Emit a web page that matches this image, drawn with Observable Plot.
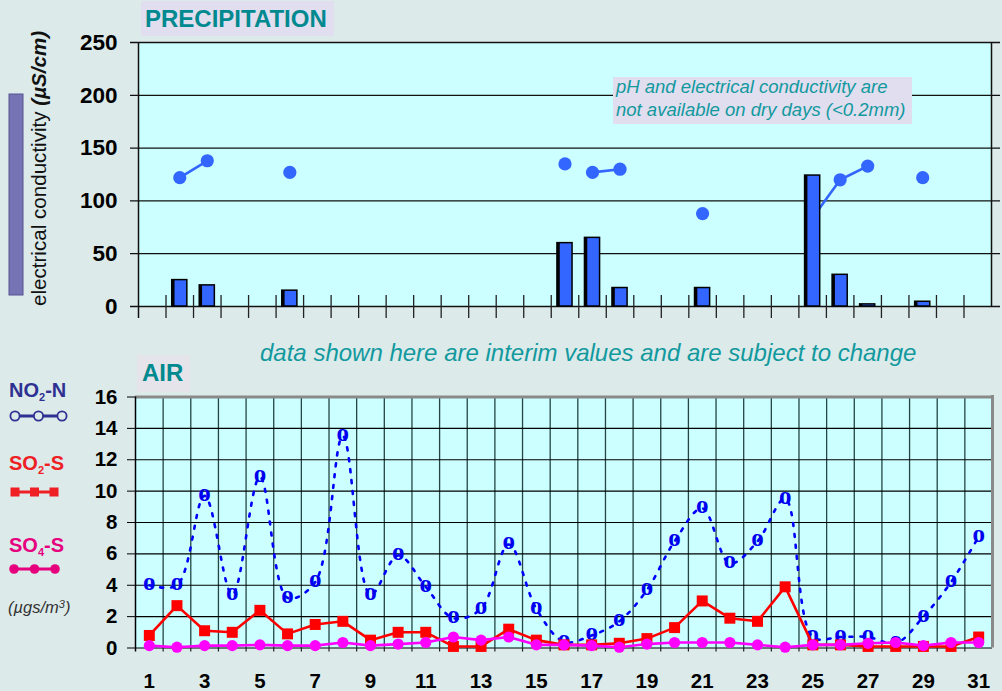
<!DOCTYPE html>
<html>
<head>
<meta charset="utf-8">
<script src="https://cdn.jsdelivr.net/npm/d3@7"></script>
<script src="https://cdn.jsdelivr.net/npm/@observablehq/plot@0.6"></script>
<style>
  html, body { margin: 0; padding: 0; background: #DCEAEA; }
  #wrap { position: relative; width: 1002px; height: 691px; overflow: hidden; background: #DCEAEA;
          font-family: Arial, "Liberation Sans", sans-serif; }
  #topChart { position: absolute; left: 0; top: 0; }
  #airChart { position: absolute; left: 0; top: 380px; }
  #overlay { position: absolute; left: 0; top: 0; }
</style>
</head>
<body>
<div id="wrap">
  <div id="topChart"></div>
  <div id="airChart"></div>
</div>
<script>
// ---------- data ----------
const days = [1,2,3,4,5,6,7,8,9,10,11,12,13,14,15,16,17,18,19,20,21,22,23,24,25,26,27,28,29,30,31];
const dayLabels = [1,3,5,7,9,11,13,15,17,19,21,23,25,27,29,31];

// precipitation bars
const rainDays = [2, 3, 6, 16, 17, 18, 21, 25, 26, 27, 29];
const rainValues = [25, 20, 15, 60, 65, 17.5, 17.5, 124, 30, 2, 4.5];

// electrical conductivity (uS/cm), consecutive runs joined by a line
const ecDays = [2, 3, 6, 16, 17, 18, 21, 25, 26, 27, 29];
const ecValues = [122, 138, 127, 135, 127, 130, 88, 84, 120, 133, 122];
const ecRun = ["a", "a", "b", "c", "d", "d", "e", "f", "f", "f", "g"];

// air (ug/m3)
const no2 = [4.0, 4.0, 9.7, 3.4, 10.9, 3.2, 4.2, 13.5, 3.4, 5.9, 3.9, 1.9, 2.5, 6.6, 2.5, 0.4,
             0.8, 1.7, 3.7, 6.8, 8.9, 5.4, 6.8, 9.5, 0.7, 0.7, 0.7, 0.3, 2.0, 4.2, 7.1];
const so2 = [0.8, 2.7, 1.1, 1.0, 2.4, 0.9, 1.5, 1.7, 0.5, 1.0, 1.0, 0.1, 0.1, 1.2, 0.5, 0.2,
             0.2, 0.3, 0.6, 1.3, 3.0, 1.9, 1.7, 3.9, 0.2, 0.2, 0.1, 0.1, 0.1, 0.1, 0.7];
const so4 = [0.15, 0.05, 0.15, 0.15, 0.2, 0.15, 0.15, 0.35, 0.15, 0.25, 0.35, 0.7, 0.5, 0.7, 0.2, 0.2,
             0.15, 0.05, 0.25, 0.35, 0.35, 0.35, 0.2, 0.05, 0.2, 0.2, 0.3, 0.35, 0.15, 0.35, 0.35];

const precipTicks = [0, 50, 100, 150, 200, 250];
const airTicks = [0, 2, 4, 6, 8, 10, 12, 14, 16];

// ---------- tables ----------
const rain = rainDays.map((day, i) => ({day, mm: rainValues[i]}));
const ec = ecDays.map((day, i) => ({day, ec: ecValues[i], run: ecRun[i]}));
const air = days.map((day, i) => ({day, no2: no2[i], so2: so2[i], so4: so4[i]}));
const bounds = days.slice(1).map(d => d - 0.5);   // category boundaries
const font = "Arial, 'Liberation Sans', sans-serif";

// ---------- precipitation chart ----------
const topPlot = Plot.plot({
  width: 1002, height: 330,
  marginTop: 42, marginBottom: 24, marginLeft: 138, marginRight: 11,
  x: {domain: [0.5, 31.5], axis: null},
  y: {domain: [0, 250], axis: null},
  style: {background: "transparent", overflow: "visible", fontFamily: font},
  marks: [
    Plot.frame({fill: "#CCFFFF", stroke: null}),
    Plot.ruleY(precipTicks, {stroke: "#111", strokeWidth: 1.3, insetLeft: -8, insetRight: -9}),
    Plot.ruleX([0.5], {stroke: "#111", strokeWidth: 1.5, insetBottom: -12}),
    Plot.ruleX([31.5], {stroke: "#111", strokeWidth: 1.5}),
    Plot.tickX(bounds, {stroke: "#222", strokeWidth: 1.3, insetTop: 253, insetBottom: -12}),
    Plot.line(ec, {x: "day", y: "ec", z: "run", stroke: "#3366FF", strokeWidth: 2.6}),
    Plot.dot(ec, {x: "day", y: "ec", r: 6.6, fill: "#3366FF"}),
    Plot.rect(rain, {x1: d => d.day - 0.5, x2: d => d.day + 0.5, y1: 0, y2: "mm",
                     fill: "#3366FF", stroke: "#000", strokeWidth: 1.5, insetLeft: 6.2, insetRight: 6.2}),
    Plot.rect(rain, {x1: d => d.day - 0.5, x2: d => d.day + 0.5, y1: 0, y2: "mm",
                     fill: "#000", insetLeft: 6.2, insetRight: 18.5}),
    Plot.axisY({ticks: precipTicks, tickSize: 0, tickPadding: 21, fontSize: 22.5, fontWeight: "bold",
                fontFamily: font, fill: "#000", label: null})
  ]
});
document.getElementById("topChart").appendChild(topPlot);

// ---------- air chart ----------
const airPlot = Plot.plot({
  width: 1002, height: 311,
  marginTop: 16.5, marginBottom: 43.5, marginLeft: 135, marginRight: 10,
  x: {domain: [0.5, 31.5], axis: null},
  y: {domain: [0, 16], axis: null},
  style: {background: "transparent", overflow: "visible", fontFamily: font},
  marks: [
    Plot.frame({fill: "#CCFFFF", stroke: null}),
    Plot.ruleX(bounds, {stroke: "#254545", strokeWidth: 1.3}),
    Plot.ruleY(airTicks.slice(0, -1), {stroke: "#000", strokeWidth: 1.2}),
    Plot.ruleY([16], {stroke: "#8A8A8A", strokeWidth: 3, insetRight: -1.5}),
    Plot.ruleX([31.5], {stroke: "#8A8A8A", strokeWidth: 3, insetTop: -1.5}),
    Plot.ruleX([0.5], {stroke: "#000", strokeWidth: 1.5, insetBottom: -4}),
    Plot.tickX(bounds, {stroke: "#222", strokeWidth: 1.2, insetTop: 251, insetBottom: -4}),
    Plot.axisY({ticks: airTicks, tickSize: 8, tickPadding: 10, fontSize: 20.5, fontWeight: "bold",
                fontFamily: font, fill: "#000", label: null}),
    Plot.axisX({ticks: dayLabels, tickSize: 0, tickPadding: 25, fontSize: 20.5, fontWeight: "bold",
                fontFamily: font, fill: "#000", label: null}),
    // NO2-N
    Plot.line(air, {x: "day", y: "no2", stroke: "#0000FF", strokeWidth: 2.6,
                    strokeDasharray: "3 8", curve: "catmull-rom"}),
    Plot.text(air, {x: "day", y: "no2", text: () => "o", fill: "#0000EE", fontSize: 25,
                    fontWeight: "bold", fontFamily: "'Liberation Serif', 'Times New Roman', serif", dy: -3}),
    // SO2-S
    Plot.line(air, {x: "day", y: "so2", stroke: "#FF0000", strokeWidth: 2.6}),
    Plot.dot(air, {x: "day", y: "so2", symbol: "square", r: 6.2, fill: "#FF0000"}),
    // SO4-S
    Plot.line(air, {x: "day", y: "so4", stroke: "#FF00FF", strokeWidth: 2.6}),
    Plot.dot(air, {x: "day", y: "so4", r: 5.6, fill: "#FF00FF"})
  ]
});
document.getElementById("airChart").appendChild(airPlot);

// ---------- overlay texts & legend ----------
const ov = d3.select("#wrap").append("svg").attr("id", "overlay")
  .attr("width", 1002).attr("height", 691).style("font-family", font);

const teal = "#00898F";
const noteTeal = "#12999E";
// PRECIPITATION title
ov.append("rect").attr("x", 141).attr("y", 1).attr("width", 193).attr("height", 35).attr("fill", "#E0DEEF");
ov.append("text").attr("x", 145).attr("y", 27).attr("font-size", 24).attr("font-weight", "bold")
  .attr("fill", teal).text("PRECIPITATION");

// note box
ov.append("rect").attr("x", 613).attr("y", 77).attr("width", 299).attr("height", 47).attr("fill", "#E0DEEF");
ov.append("text").attr("x", 616).attr("y", 93).attr("font-size", 18.5).attr("font-style", "italic")
  .attr("fill", noteTeal).text("pH and electrical conductivity are");
ov.append("text").attr("x", 616).attr("y", 116).attr("font-size", 18.5).attr("font-style", "italic")
  .attr("fill", noteTeal).text("not available on dry days (<0.2mm)");

// interim note
ov.append("text").attr("x", 260).attr("y", 361).attr("font-size", 24).attr("font-style", "italic")
  .attr("fill", noteTeal).text("data shown here are interim values and are subject to change");

// AIR title
ov.append("rect").attr("x", 137).attr("y", 355).attr("width", 53).attr("height", 37).attr("fill", "#E4E4EA");
ov.append("text").attr("x", 142).attr("y", 381).attr("font-size", 24).attr("font-weight", "bold")
  .attr("fill", teal).text("AIR");

// y label (precipitation chart)
ov.append("rect").attr("x", 9).attr("y", 94).attr("width", 14).attr("height", 201)
  .attr("fill", "#7674B5").attr("stroke", "#55538F").attr("stroke-width", 1);
const yl = ov.append("text").attr("transform", "translate(46,306) rotate(-90)")
  .attr("font-size", 20.6).attr("fill", "#111");
yl.append("tspan").text("electrical conductivity ");
yl.append("tspan").attr("font-weight", "bold").attr("font-style", "italic").text("(µS/cm)");

// legend
const navy = "#2E3192", red = "#EE2024", pink = "#E6007E";
function label(y, color, a, sub, b) {
  const t = ov.append("text").attr("x", 9).attr("y", y).attr("font-size", 20)
    .attr("font-weight", "bold").attr("fill", color);
  t.append("tspan").text(a);
  t.append("tspan").attr("font-size", 11).attr("dy", 4).text(sub);
  t.append("tspan").attr("dy", -4).text(b);
}
label(397, navy, "NO", "2", "-N");
ov.append("line").attr("x1", 15).attr("x2", 62).attr("y1", 416).attr("y2", 416)
  .attr("stroke", navy).attr("stroke-width", 3);
[15, 38.5, 62].forEach(cx => ov.append("circle").attr("cx", cx).attr("cy", 416).attr("r", 4.6)
  .attr("fill", "#DCEAEA").attr("stroke", navy).attr("stroke-width", 1.8));

label(470, red, "SO", "2", "-S");
ov.append("line").attr("x1", 15).attr("x2", 55).attr("y1", 492).attr("y2", 492)
  .attr("stroke", red).attr("stroke-width", 3);
[15, 34.5, 54].forEach(cx => ov.append("rect").attr("x", cx - 4.5).attr("y", 487.5)
  .attr("width", 9).attr("height", 9).attr("fill", red));

label(552, pink, "SO", "4", "-S");
ov.append("line").attr("x1", 14).attr("x2", 55).attr("y1", 569).attr("y2", 569)
  .attr("stroke", pink).attr("stroke-width", 3);
[14, 34.5, 55].forEach(cx => ov.append("circle").attr("cx", cx).attr("cy", 569).attr("r", 4.8)
  .attr("fill", pink));

const unit = ov.append("text").attr("x", 8).attr("y", 613).attr("font-size", 16.5)
  .attr("font-style", "italic").attr("fill", "#333");
unit.append("tspan").text("(µgs/m");
unit.append("tspan").attr("font-size", 11).attr("dy", -5).text("3");
unit.append("tspan").attr("dy", 5).text(")");
</script>
</body>
</html>
